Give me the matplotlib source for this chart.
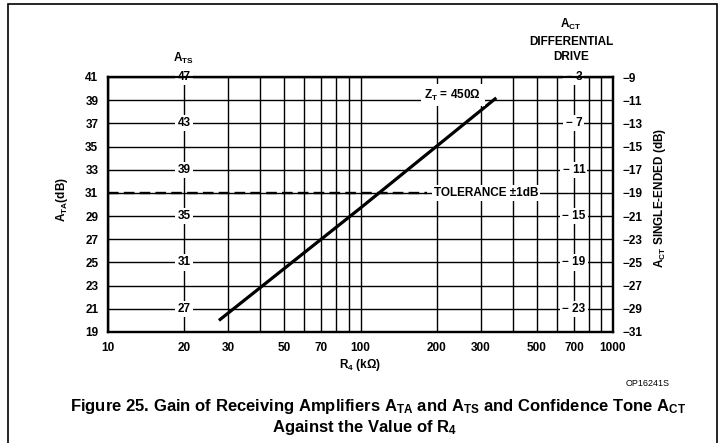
import matplotlib
matplotlib.use("Agg")
import matplotlib.pyplot as plt
from matplotlib.patches import Rectangle

plt.rcParams['font.family'] = ['Liberation Sans', 'DejaVu Sans']
plt.rcParams['font.weight'] = 'bold'
plt.rcParams['mathtext.fontset'] = 'custom'
plt.rcParams['mathtext.rm'] = 'Liberation Sans:bold'
plt.rcParams['mathtext.it'] = 'Liberation Sans:bold'
plt.rcParams['mathtext.bf'] = 'Liberation Sans:bold'

# data
r4_grid = [10, 20, 30, 40, 50, 60, 70, 80, 90, 100,
           200, 300, 400, 500, 600, 700, 800, 900, 1000]
r4_labels = ['10', '20', '30', '', '50', '', '70', '', '', '100',
             '200', '300', '', '500', '', '700', '', '', '1000']
ata_ticks = [19, 21, 23, 25, 27, 29, 31, 33, 35, 37, 39, 41]
act_se_labels = ['−31', '−29', '−27', '−25', '−23', '−21',
                 '−19', '−17', '−15', '−13', '−11', '−9']
ats_pos = [21, 25, 29, 33, 37, 41]
ats_labels = ['27', '31', '35', '39', '43', '47']
act_diff_labels = ['− 23', '− 19', '− 15', '− 11', '− 7', '− 3']

r4_line = [27.5, 100, 345]
ata_line = [20.0, 29.7, 39.2]

tol_r4 = [10, 184]
tol_ata = [31, 31]

fig = plt.figure(figsize=(7.22, 4.43), dpi=100)
ax = fig.add_axes([108/722, 1-332/443, 505/722, 255/443])

ax.set_xscale('log')
ax.set_xlim(10, 1000)
ax.set_ylim(19, 41)
ax.set_xticks(r4_grid)
ax.set_xticklabels(r4_labels)
ax.xaxis.set_minor_locator(matplotlib.ticker.NullLocator())
ax.set_yticks(ata_ticks)
ax.tick_params(length=0, labelsize=8.5, pad=7)
ax.grid(True, color='black', lw=1.0)
for s in ax.spines.values():
	s.set_linewidth(1.6)

ax.plot(r4_line, ata_line, color='black', lw=2.3, solid_capstyle='butt', zorder=3)
ax.plot(tol_r4, tol_ata, color='black', lw=1.7, dashes=(4.5, 2.2), zorder=3)

box = dict(facecolor='white', edgecolor='none', pad=1.5)
for y, t in zip(ats_pos, ats_labels):
	ax.text(20, y, t, ha='center', va='center', fontsize=8.5, bbox=box, zorder=4)
for y, t in zip(ats_pos, act_diff_labels):
	ax.text(700, y, t, ha='center', va='center', fontsize=8.5, bbox=box, zorder=4)

ax.text(232, 39.45, r'Z$_{\rm T}$ = 450Ω', ha='center', va='center', fontsize=8.5,
	bbox=dict(facecolor='white', edgecolor='none', pad=2.5), zorder=4)
ax.text(314, 31, 'TOLERANCE ±1dB', ha='center', va='center', fontsize=8.5,
	bbox=dict(facecolor='white', edgecolor='none', pad=1.5), zorder=4)

ax2 = ax.twinx()
ax2.set_ylim(19, 41)
ax2.set_yticks(ata_ticks)
ax2.set_yticklabels(act_se_labels)
ax2.tick_params(length=0, labelsize=8.5, pad=7)
for s in ax2.spines.values():
	s.set_linewidth(1.6)

fig.text(62/722, 1-200/443, r'A$_{\rm TA}$(dB)', rotation=90, ha='center', va='center', fontsize=8.5)
fig.text(660/722, 1-198/443, r'A$_{\rm CT}$ SINGLE-ENDED (dB)', rotation=90, ha='center', va='center', fontsize=8.5)
fig.text(360/722, 1-365/443, r'R$_{4}$ (kΩ)', ha='center', va='center', fontsize=8.5)
fig.text(183/722, 1-58/443, r'A$_{\rm TS}$', ha='center', va='center', fontsize=8.5)
fig.text(571/722, 1-24/443, r'A$_{\rm CT}$', ha='center', va='center', fontsize=8.5)
fig.text(571/722, 1-42/443, 'DIFFERENTIAL', ha='center', va='center', fontsize=8.5)
fig.text(571/722, 1-57/443, 'DRIVE', ha='center', va='center', fontsize=8.5)
fig.text(648/722, 1-383/443, 'OP16241S', ha='center', va='center', fontsize=6.5, fontweight='normal')
fig.text(378/722, 1-411/443,
	r'Figure 25. Gain of Receiving Amplifiers A$_{\rm TA}$ and A$_{\rm TS}$ and Confidence Tone A$_{\rm CT}$',
	ha='center', va='baseline', fontsize=12)
fig.text(364/722, 1-432/443, r'Against the Value of R$_{4}$', ha='center', va='baseline', fontsize=12)

fig.add_artist(Rectangle((8/722, -0.02), 709/722, 1-4/443+0.02, transform=fig.transFigure,
	fill=False, edgecolor='black', lw=1.2))

fig.savefig('out.png', dpi=100)
